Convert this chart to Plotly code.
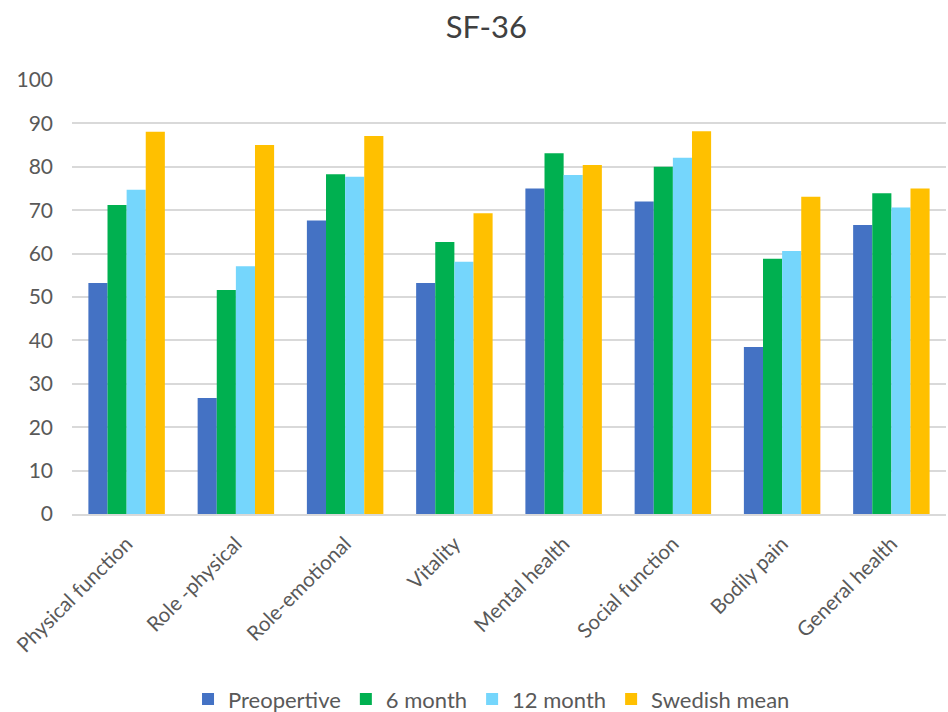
import plotly.graph_objects as go

categories = ["Physical function", "Role -physical", "Role-emotional", "Vitality",
              "Mental health", "Social function", "Bodily pain", "General health"]
preoperative = [53.2, 26.7, 67.6, 53.2, 75.0, 72.0, 38.5, 66.6]
month6 = [71.2, 51.6, 78.3, 62.7, 83.1, 80.0, 58.8, 73.9]
month12 = [74.7, 57.1, 77.7, 58.1, 78.1, 82.1, 60.6, 70.6]
swedish_mean = [88.1, 85.0, 87.1, 69.3, 80.4, 88.2, 73.1, 75.0]

series_names = ["Preopertive", "6 month", "12 month", "Swedish mean"]
series_values = [preoperative, month6, month12, swedish_mean]
colors = ["#4472C4", "#00B050", "#75D6FC", "#FFC000"]

fig = go.Figure()
for name, vals, col in zip(series_names, series_values, colors):
    fig.add_trace(go.Bar(x=categories, y=vals, name=name, marker_color=col,
                         marker_line_width=0))

font_family = "Lato, Open Sans, sans-serif"
fig.update_layout(
    width=948, height=712,
    margin=dict(l=72, r=2, t=80, b=198),
    paper_bgcolor="white", plot_bgcolor="white",
    title=dict(text="SF-36", x=0.513, xanchor="center", y=0.962, yanchor="middle",
               font=dict(family=font_family, size=31, color="#404040")),
    barmode="group", bargap=0.3, bargroupgap=0,
    font=dict(family=font_family, color="#595959"),
    xaxis=dict(tickangle=-45, tickfont=dict(size=20.5, color="#595959"),
               showline=True, linecolor="#D9D9D9", linewidth=1.5,
               ticks="", showgrid=False, ticklabelstandoff=8),
    yaxis=dict(range=[0, 100], dtick=10, tickfont=dict(size=21, color="#595959"),
               showgrid=True, gridcolor="#D9D9D9", gridwidth=1.5,
               zeroline=False, ticks="", ticklabelstandoff=18),
    legend=dict(orientation="h", xanchor="center", x=0.48, yref="container",
                y=0.018, yanchor="middle", font=dict(size=22, color="#595959"),
                itemwidth=30, traceorder="normal"),
)

fig.write_html("out.html")
